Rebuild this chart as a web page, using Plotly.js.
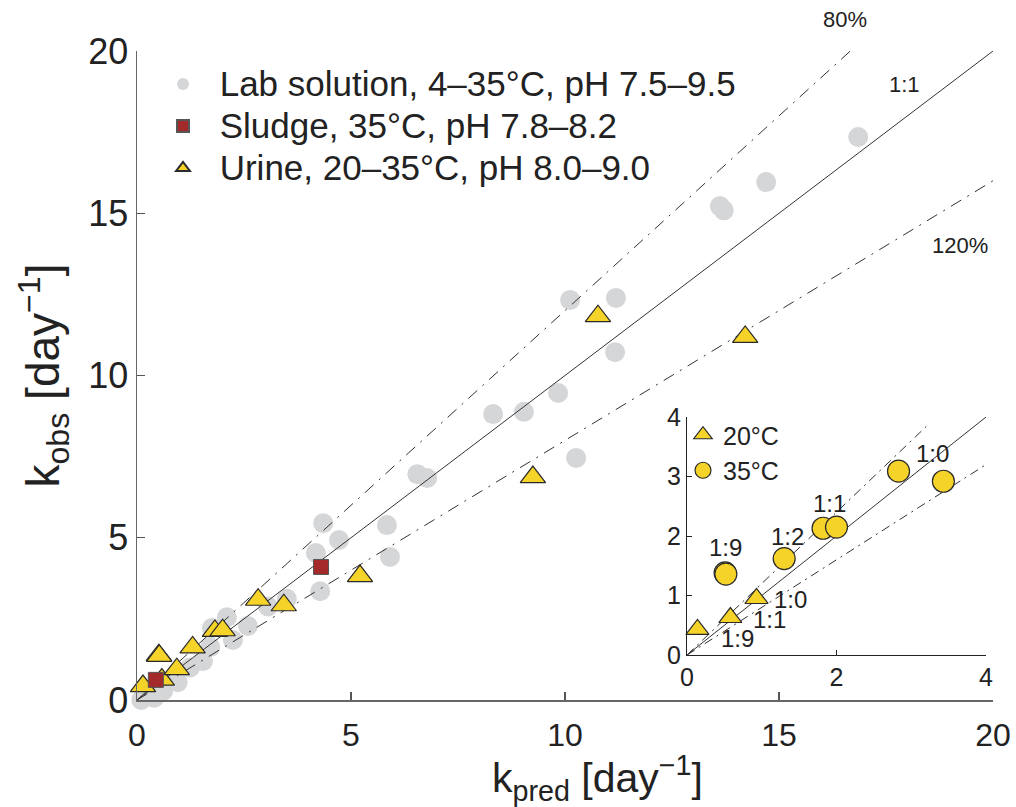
<!DOCTYPE html>
<html><head><meta charset="utf-8">
<script src="https://cdn.plot.ly/plotly-3.0.1.min.js"></script>
<style>html,body{margin:0;padding:0;background:#fff}#chart{width:1016px;height:807px}</style>
</head><body><div id="chart"></div>
<script>
// ---- data ----
const labX = [0.10,0.40,0.61,0.89,0.95,1.24,1.54,1.71,1.75,2.10,2.24,2.59,3.06,3.50,4.18,4.28,4.35,4.72,5.84,5.91,6.55,6.78,8.32,9.04,9.84,10.12,10.26,11.17,11.19,13.62,13.71,14.70,16.85];
const labY = [0.00,0.07,0.28,0.65,0.55,1.00,1.20,1.63,2.22,2.55,1.85,2.28,2.88,3.12,4.53,3.35,5.45,4.93,5.39,4.41,6.96,6.84,8.81,8.88,9.46,12.33,7.46,10.72,12.39,15.22,15.09,15.96,17.35];
const sludgeX = [0.44, 4.30];
const sludgeY = [0.62, 4.10];
const urine20X = [0.14, 0.58, 0.93];
const urine20Y = [0.43, 0.63, 0.95];
const urine35X = [0.51, 0.52, 1.30, 1.82, 2.00, 2.83, 3.43];
const urine35Y = [1.38, 1.36, 1.62, 2.13, 2.15, 3.09, 2.92];
const urineHighX = [5.21, 9.25, 10.77, 14.21];
const urineHighY = [3.82, 6.87, 11.83, 11.19];
const refNames = ['1:1', '80%', '120%'];
const refSlopes = [1.0, 1.2, 0.8];
const refEndMain = [20, 16.67, 20];
const refEndInset = [4, 3.25, 4];
const mainTicks = [0, 5, 10, 15, 20];
const insetTicksX = [0, 2, 4];
const insetTicksY = [0, 1, 2, 3, 4];
const legendNames = ['Lab solution, 4\u201335\u00b0C, pH 7.5\u20139.5', 'Sludge, 35\u00b0C, pH 7.8\u20138.2', 'Urine, 20\u201335\u00b0C, pH 8.0\u20139.0'];
const insetLegendNames = ['20\u00b0C', '35\u00b0C'];
const insetLabels = ['1:9', '1:2', '1:1', '1:0', '1:0', '1:1', '1:9'];

const SANS = '"Liberation Sans", Arial, Helvetica, sans-serif';
const GRAY = '#d5d6d8', RED = '#a3292b', YEL = '#f5d329', EDGE = '#2a2a2a';
const DASHDOT = '12px,7px,2px,7px';

const urineMainX = urine20X.concat(urine35X, urineHighX);
const urineMainY = urine20Y.concat(urine35Y, urineHighY);
const legName = s => '\u00a0\u00a0<span style="font-size:35px">' + s + '</span>';

const traces = [];
traces.push({x: labX, y: labY, type: 'scatter', mode: 'markers', name: legName(legendNames[0]),
  legendrank: 1, cliponaxis: false, xaxis: 'x', yaxis: 'y',
  marker: {symbol: 'circle', size: 20, color: GRAY, line: {width: 0}}});
refNames.forEach((n, i) => {
  traces.push({x: [0, refEndMain[i]], y: [0, refEndMain[i] * refSlopes[i]], type: 'scatter', mode: 'lines', showlegend: false,
    xaxis: 'x', yaxis: 'y', cliponaxis: false,
    line: {color: '#333', width: 1, dash: i === 0 ? 'solid' : DASHDOT}});
});
traces.push({x: urineMainX, y: urineMainY, type: 'scatter', mode: 'markers', name: legName(legendNames[2]),
  legendrank: 3, cliponaxis: false, xaxis: 'x', yaxis: 'y',
  marker: {symbol: 'triangle-up', size: 22, color: YEL, line: {width: 1.2, color: EDGE}}});
traces.push({x: sludgeX, y: sludgeY, type: 'scatter', mode: 'markers', name: legName(legendNames[1]),
  legendrank: 2, cliponaxis: false, xaxis: 'x', yaxis: 'y',
  marker: {symbol: 'square', size: 15, color: RED, line: {width: 1, color: '#555'}}});
// inset
refNames.forEach((n, i) => {
  traces.push({x: [0, refEndInset[i]], y: [0, refEndInset[i] * refSlopes[i]], type: 'scatter', mode: 'lines', showlegend: false,
    xaxis: 'x2', yaxis: 'y2', cliponaxis: false,
    line: {color: '#333', width: 1, dash: i === 0 ? 'solid' : '9px,5px,2px,5px'}});
});
traces.push({x: urine20X, y: urine20Y, type: 'scatter', mode: 'markers', name: insetLegendNames[0], legend: 'legend2', legendrank: 1,
  xaxis: 'x2', yaxis: 'y2', cliponaxis: false,
  marker: {symbol: 'triangle-up', size: 20, color: YEL, line: {width: 1.2, color: EDGE}}});
traces.push({x: urine35X, y: urine35Y, type: 'scatter', mode: 'markers', name: insetLegendNames[1], legend: 'legend2', legendrank: 2,
  xaxis: 'x2', yaxis: 'y2', cliponaxis: false,
  marker: {symbol: 'circle', size: 22, color: YEL, line: {width: 1.2, color: EDGE}}});

const axMain = {showgrid: false, zeroline: false, showline: true, linecolor: '#666', linewidth: 1.5,
  ticks: 'inside', ticklen: 8, tickcolor: '#555', tickwidth: 1.2, range: [0, 20], tickvals: mainTicks, fixedrange: true};
const axInset = {showgrid: false, zeroline: false, showline: true, linecolor: '#222', linewidth: 1,
  ticks: 'inside', ticklen: 5, tickcolor: '#222', range: [0, 4], fixedrange: true, tickfont: {family: SANS, size: 25, color: '#222'}};

const insetLabelPos = [[0.51, 1.80], [1.34, 2.00], [1.91, 2.54], [3.29, 3.39], [1.38, 0.94], [1.11, 0.59], [0.67, 0.27]];
const annotations = insetLabels.map((t, i) => ({text: t, x: insetLabelPos[i][0], y: insetLabelPos[i][1], xref: 'x2', yref: 'y2',
  xanchor: 'center', yanchor: 'middle', showarrow: false, font: {family: SANS, size: 24, color: '#222'}}));
const paperNote = (t, px, py) => ({text: t, x: px / 1016, y: 1 - py / 807, xref: 'paper', yref: 'paper', xanchor: 'center', yanchor: 'middle',
  showarrow: false, font: {family: SANS, size: 22, color: '#222'}});
annotations.push(paperNote('80%', 845, 19));
annotations.push(paperNote('1:1', 904, 84));
annotations.push(paperNote('120%', 960, 246));
annotations.push({text: 'k<sub>pred</sub> [day<sup>\u22121</sup>]', x: 597 / 1016, y: 1 - 778 / 807, xref: 'paper', yref: 'paper',
  xanchor: 'center', yanchor: 'middle', showarrow: false, font: {family: SANS, size: 41, color: '#222'}});

const layout = {
  width: 1016, height: 807, margin: {l: 0, r: 0, t: 0, b: 0}, paper_bgcolor: '#fff', plot_bgcolor: 'rgba(0,0,0,0)',
  showlegend: true,
  xaxis: Object.assign({}, axMain, {domain: [137 / 1016, 993 / 1016], anchor: 'y', tickfont: {family: SANS, size: 32, color: '#222'}, ticklabelstandoff: 6}),
  yaxis: Object.assign({}, axMain, {domain: [1 - 700 / 807, 1 - 51 / 807], anchor: 'x', tickfont: {family: SANS, size: 36, color: '#222'}, ticklabelstandoff: 0,
    title: {text: 'k<sub>obs</sub> [day<sup>\u22121</sup>]', font: {family: SANS, size: 46, color: '#222'}, standoff: 14}}),
  xaxis2: Object.assign({}, axInset, {domain: [687 / 1016, 986 / 1016], anchor: 'y2', tickvals: insetTicksX}),
  yaxis2: Object.assign({}, axInset, {domain: [1 - 655 / 807, 1 - 417 / 807], anchor: 'x2', tickvals: insetTicksY}),
  legend: {x: 163 / 1016, y: 1 - 58 / 807, xanchor: 'left', yanchor: 'top', bgcolor: 'rgba(0,0,0,0)', borderwidth: 0,
    font: {family: SANS, size: 30, color: '#222'}, itemsizing: 'constant', traceorder: 'normal'},
  legend2: {x: 683 / 1016, y: 1 - 412 / 807, xanchor: 'left', yanchor: 'top', bgcolor: 'rgba(0,0,0,0)', borderwidth: 0,
    font: {family: SANS, size: 25, color: '#222'}, itemsizing: 'trace', traceorder: 'normal'},
  annotations: annotations
};
Plotly.newPlot('chart', traces, layout, {staticPlot: true, displayModeBar: false});
</script></body></html>
